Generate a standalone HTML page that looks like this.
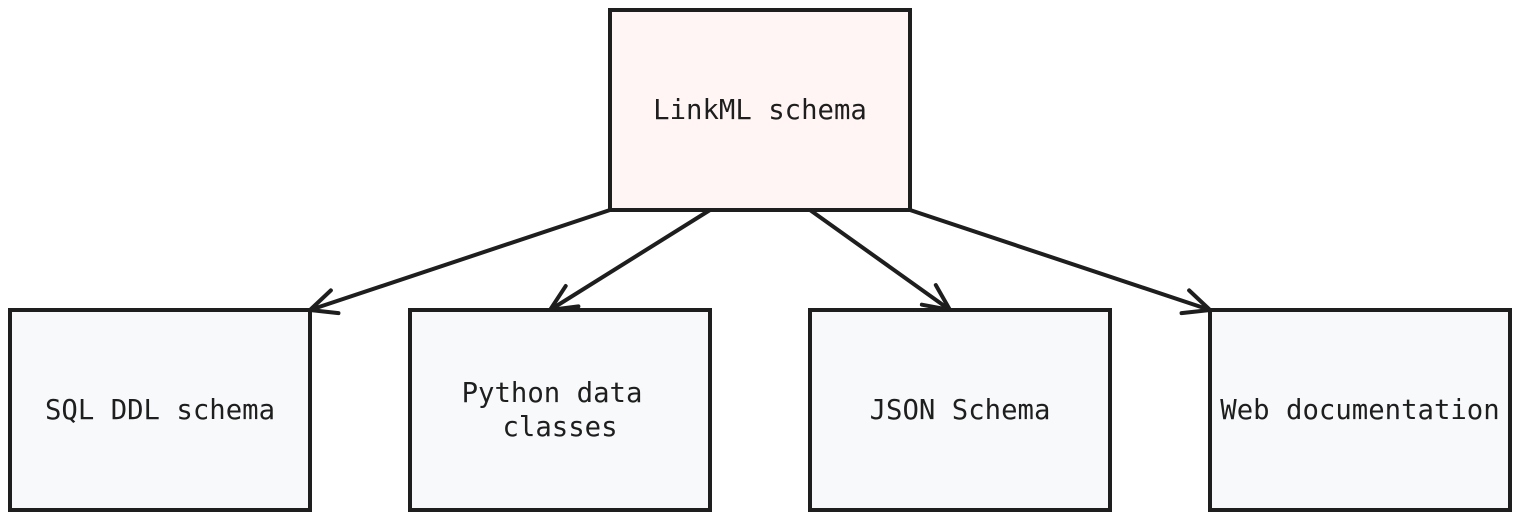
<!DOCTYPE html>
<html><head><style>
html,body{margin:0;padding:0;background:#fff;}
svg{display:block;}
text{font-family:"DejaVu Sans Mono","Liberation Mono",monospace;font-size:27.3px;fill:#1e1e1e;}
</style></head><body>
<svg width="1520" height="520" viewBox="0 0 1520 520" xmlns="http://www.w3.org/2000/svg">
<defs>
<marker id="a" markerUnits="userSpaceOnUse" markerWidth="40" markerHeight="40" refX="30" refY="20" orient="auto" viewBox="0 0 40 40">
<path d="M4 8 L30 20 L4 32" fill="none" stroke="#1e1e1e" stroke-width="4" stroke-linecap="round" stroke-linejoin="round"/>
</marker>
</defs>
<g stroke="#1e1e1e" stroke-width="4" fill="none" stroke-linecap="round">
<line x1="610" y1="210" x2="310" y2="310" marker-end="url(#a)"/>
<line x1="710" y1="210" x2="550" y2="310" marker-end="url(#a)"/>
<line x1="810" y1="210" x2="950" y2="310" marker-end="url(#a)"/>
<line x1="910" y1="210" x2="1210" y2="310" marker-end="url(#a)"/>
</g>
<g stroke="#1e1e1e" stroke-width="4">
<rect x="610" y="10" width="300" height="200" fill="#fff5f5"/>
<rect x="10" y="310" width="300" height="200" fill="#f8f9fa"/>
<rect x="410" y="310" width="300" height="200" fill="#f8f9fa"/>
<rect x="810" y="310" width="300" height="200" fill="#f8f9fa"/>
<rect x="1210" y="310" width="300" height="200" fill="#f8f9fa"/>
</g>
<g text-anchor="middle">
<text x="760" y="119">LinkML schema</text>
<text x="160" y="419">SQL DDL schema</text>
<text x="552" y="402">Python data</text>
<text x="560" y="436">classes</text>
<text x="960" y="419">JSON Schema</text>
<text x="1360" y="419">Web documentation</text>
</g>
</svg>
</body></html>
